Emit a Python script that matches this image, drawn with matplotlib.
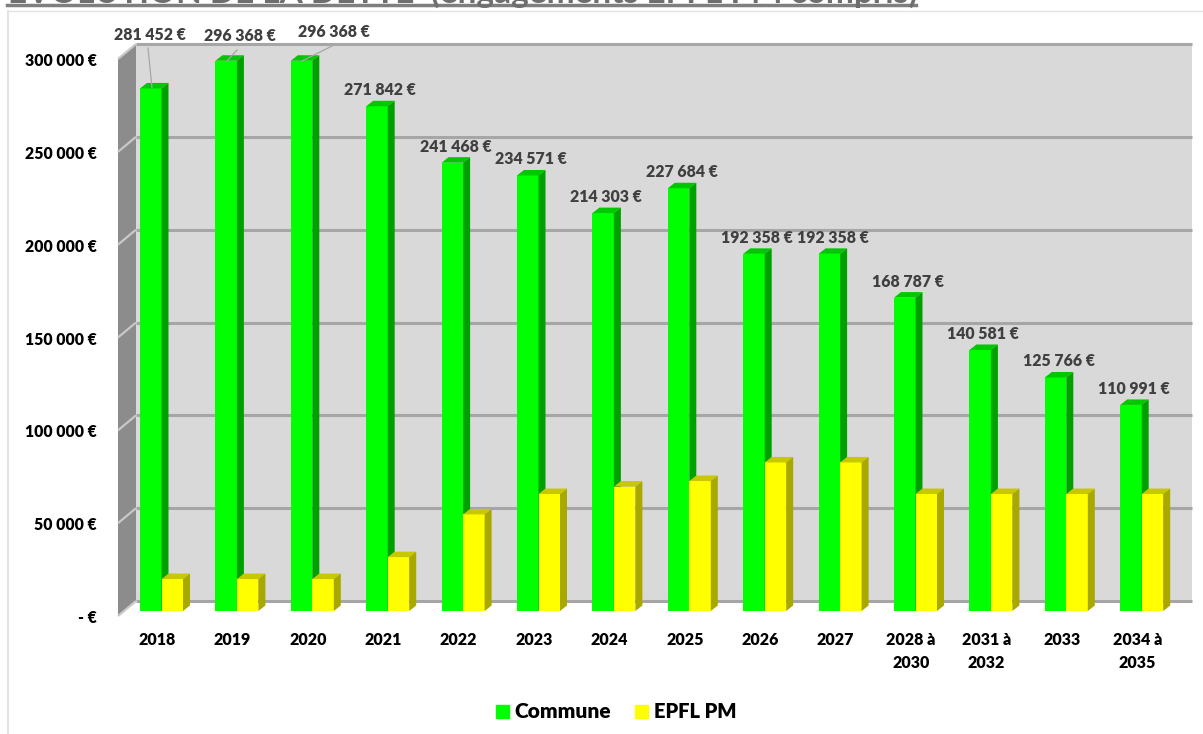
import matplotlib
matplotlib.use("Agg")
import matplotlib.pyplot as plt
from matplotlib.patches import Polygon, Rectangle

plt.rcParams['font.family'] = ['Lato', 'DejaVu Sans']

categories = ['2018', '2019', '2020', '2021', '2022', '2023', '2024', '2025', '2026', '2027',
              '2028 à\n2030', '2031 à\n2032', '2033', '2034 à\n2035']
commune = [281452, 296368, 296368, 271842, 241468, 234571, 214303, 227684, 192358, 192358,
           168787, 140581, 125766, 110991]
epfl = [17200, 17200, 17200, 29000, 52000, 63000, 67000, 70000, 80000, 80000,
        63000, 63000, 63000, 63000]
labels = ['281 452 €', '296 368 €', '296 368 €', '271 842 €', '241 468 €', '234 571 €', '214 303 €',
          '227 684 €', '192 358 €', '192 358 €', '168 787 €', '140 581 €', '125 766 €', '110 991 €']
ticks = [0, 50000, 100000, 150000, 200000, 250000, 300000]
tick_labels = ['- €', '50 000 €', '100 000 €', '150 000 €', '200 000 €', '250 000 €', '300 000 €']

W, H = 1203, 734
fig = plt.figure(figsize=(W / 100, H / 100), dpi=100)

# axes box in pixels: category 0 starts at x=118, value 0 at y=611, 300000 at y=54
spacing = 75.4
left, right, y0, y300 = 118, 118 + 14 * spacing, 611, 54
ax = fig.add_axes([left / W, 1 - y0 / H, (right - left) / W, (y0 - y300) / H])
ax.set_xlim(0, 14)
ax.set_ylim(0, 300000)
ax.axis('off')

px_x = 1 / spacing
px_y = 300000 / (y0 - y300)


def poly(pts, color, z):
    ax.add_patch(Polygon(pts, closed=True, facecolor=color, edgecolor=color, lw=0, zorder=z, clip_on=False))


# back wall, side wall and floor
bx, by = 18 * px_x, 10 * px_y     # back wall offset from bar plane
fy = -5 * px_y                    # front edge of side wall
poly([(bx, by), (bx + 14, by), (bx + 14, 300000 + by), (bx, 300000 + by)], '#d9d9d9', 1)
poly([(0, fy), (bx, by), (bx, 300000 + by), (0, 300000 + fy)], '#8c8c8c', 2)
for t, lab in zip(ticks, tick_labels):
    ax.plot([bx, bx + 14], [t + by, t + by], color='#a6a6a6', lw=2.2, zorder=3,
            solid_capstyle='butt', clip_on=False)
    ax.plot([0, bx], [t + fy, t + by], color='#c8c8c8', lw=1.6, zorder=3,
            solid_capstyle='butt', clip_on=False)
    ax.text(-21 * px_x, t + fy - 2 * px_y, lab, ha='right', va='center',
            fontsize=11.3, fontweight='heavy', color='black', zorder=10)

# bars with a fake 3D depth
dx, dy = 7 * px_x, 5.5 * px_y
bar_w = 21.5 * px_x
start = 22 * px_x
for i in range(14):
    x1 = i + start
    for x, v, front, top, side, z in [(x1, commune[i], '#00ff00', '#00c800', '#00a000', 5 + i),
                                      (x1 + bar_w, epfl[i], '#ffff00', '#c8c800', '#a8a800', 5.5 + i)]:
        ax.bar(x, v, width=bar_w, align='edge', color=front, zorder=z, clip_on=False)
        poly([(x, v), (x + bar_w, v), (x + bar_w + dx, v + dy), (x + dx, v + dy)], top, z)
        poly([(x + bar_w, 0), (x + bar_w + dx, dy), (x + bar_w + dx, v + dy), (x + bar_w, v)], side, z)

# value labels, the first three are moved above the plot with leader lines
moved_x = [150, 240, 334]
moved_y = [35, 36, 32]
for i, lab in enumerate(labels):
    if i < 3:
        x, y = (moved_x[i] - left) * px_x, (y0 - moved_y[i]) * px_y
    else:
        x, y = i + start + 14 * px_x, commune[i] + 16 * px_y
    ax.text(x, y, lab, ha='center', va='center', fontsize=11.4, fontweight='heavy',
            color='#404040', zorder=30)

for xa, ya, xb, yb in [(148, 48, 152, 88), (237, 50, 227, 61), (332, 46, 302, 61)]:
    ax.plot([(xa - left) * px_x, (xb - left) * px_x], [(y0 - ya) * px_y, (y0 - yb) * px_y],
            color='#a6a6a6', lw=0.9, zorder=31, clip_on=False)

# category labels
for i, c in enumerate(categories):
    ax.text(i + 39 * px_x, (y0 - 632) * px_y, c, ha='center', va='top', fontsize=11.5,
            fontweight='heavy', linespacing=1.5, color='black', clip_on=False)

# placed on the figure: frame, cut off title, legend
fig.add_artist(plt.Line2D([8 / W, 8 / W], [0, 1 - 11 / H], color='#e4e4e4', lw=1.5))
fig.add_artist(plt.Line2D([8 / W, 1], [1 - 11 / H, 1 - 11 / H], color='#e4e4e4', lw=1))
fig.text(8 / W, 1 - 3 / H, 'EVOLUTION DE LA DETTE  (engagements EPFL PM compris)', ha='left',
         va='baseline', fontsize=24, fontweight='bold', color='#6e6e6e')
fig.add_artist(plt.Line2D([7 / W, 916 / W], [1 - 5 / H, 1 - 5 / H], color='#7f7f7f', lw=2.5))

fig.add_artist(Rectangle((496 / W, 1 - 718 / H), 13 / W, 13 / H, transform=fig.transFigure, color='#00ff00'))
fig.text(514 / W, 1 - 712 / H, 'Commune', ha='left', va='center', fontsize=15, fontweight='heavy')
fig.add_artist(Rectangle((635 / W, 1 - 718 / H), 13 / W, 13 / H, transform=fig.transFigure, color='#ffff00'))
fig.text(654 / W, 1 - 712 / H, 'EPFL PM', ha='left', va='center', fontsize=14.5, fontweight='heavy')

fig.savefig('out.png', dpi=100)
